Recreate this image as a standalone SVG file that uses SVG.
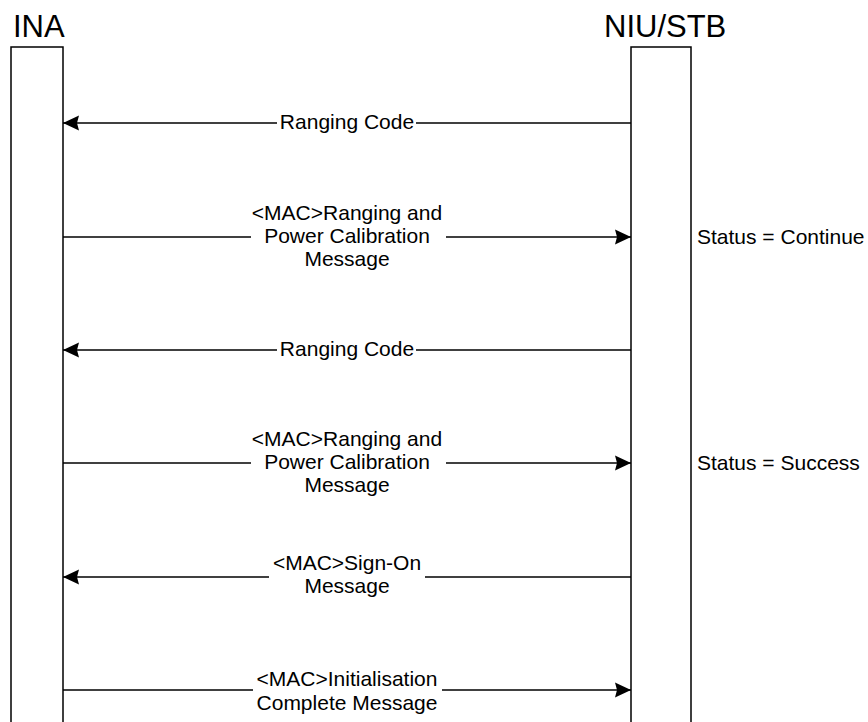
<svg xmlns="http://www.w3.org/2000/svg" width="868" height="722" viewBox="0 0 868 722">
<defs>
<marker id="ah" markerUnits="userSpaceOnUse" markerWidth="16" markerHeight="16" viewBox="0 0 16 16" refX="16" refY="8" orient="auto">
<path d="M0,0.5 L16,8 L0,15.5 L2,8 Z" fill="#000"/>
</marker>
<style>
.ll{fill:none;stroke:#000;stroke-width:1.5}
.hd{font-family:"Liberation Sans",Arial,sans-serif;font-size:31px;fill:#000}
.msg{font-family:"Liberation Sans",Arial,sans-serif;font-size:21px;fill:#000;text-anchor:middle}
.st{font-family:"Liberation Sans",Arial,sans-serif;font-size:21px;fill:#000}
.c{fill:none;stroke:#000;stroke-width:1.4}
.a{fill:none;stroke:#000;stroke-width:1.4;marker-end:url(#ah)}
</style>
</defs>
<rect width="868" height="722" fill="#fff"/>
<g id="ina">
<path class="ll" d="M11,723 V47 H63 V723"/>
<text class="hd" x="13" y="37">INA</text>
</g>
<g id="niu">
<path class="ll" d="M631,723 V47 H691 V723"/>
<text class="hd" x="604" y="37">NIU/STB</text>
</g>
<g id="connectors">
<path class="c" d="M631,123 H416"/>
<path class="a" d="M277,123 H63"/>
<text class="msg" x="347" y="129">Ranging Code</text>

<path class="c" d="M63,237 H251"/>
<path class="a" d="M446,237 H631"/>
<text class="msg" x="347" y="220">&lt;MAC&gt;Ranging and</text>
<text class="msg" x="347" y="243">Power Calibration</text>
<text class="msg" x="347" y="266">Message</text>

<path class="c" d="M631,350 H416"/>
<path class="a" d="M277,350 H63"/>
<text class="msg" x="347" y="356">Ranging Code</text>

<path class="c" d="M63,463 H251"/>
<path class="a" d="M446,463 H631"/>
<text class="msg" x="347" y="446">&lt;MAC&gt;Ranging and</text>
<text class="msg" x="347" y="469">Power Calibration</text>
<text class="msg" x="347" y="492">Message</text>

<path class="c" d="M631,577 H425"/>
<path class="a" d="M269,577 H63"/>
<text class="msg" x="347" y="570">&lt;MAC&gt;Sign-On</text>
<text class="msg" x="347" y="593">Message</text>

<path class="c" d="M63,690 H253"/>
<path class="a" d="M442,690 H631"/>
<text class="msg" x="347" y="686">&lt;MAC&gt;Initialisation</text>
<text class="msg" x="347" y="710">Complete Message</text>
</g>
<g id="status">
<text class="st" x="697" y="244">Status = Continue</text>
<text class="st" x="697" y="470">Status = Success</text>
</g>
</svg>
